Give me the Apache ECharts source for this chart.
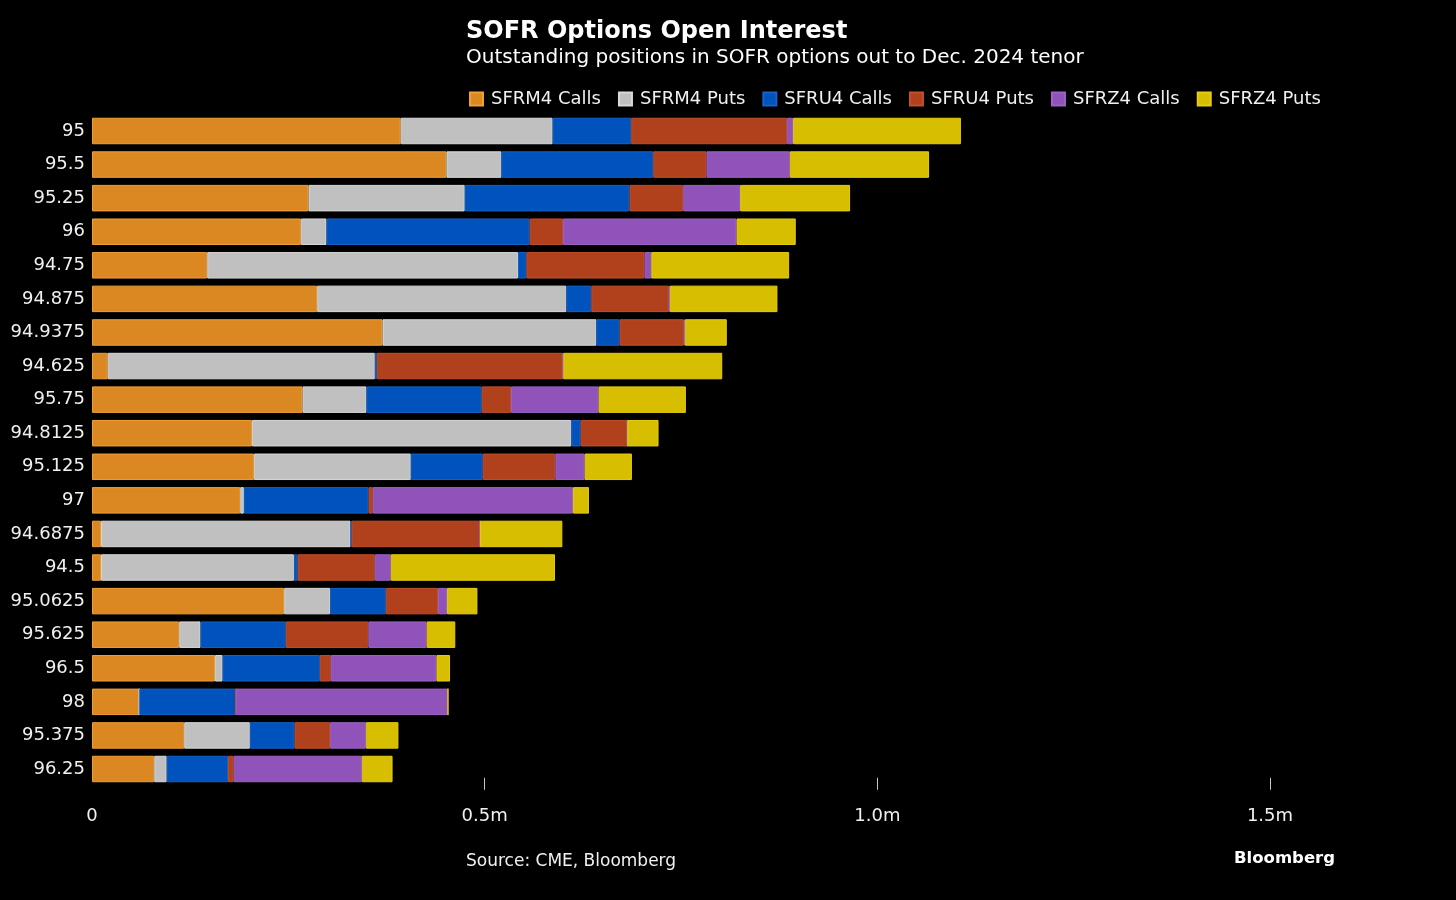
<!DOCTYPE html>
<html>
<head>
<meta charset="utf-8">
<script src="https://cdn.jsdelivr.net/npm/echarts@6/dist/echarts.min.js"></script>
<style>
html,body{margin:0;padding:0;background:#000;}
#chart{width:1456px;height:900px;}
</style>
</head>
<body>
<div id="chart"></div>
<script>
// Strike categories (top to bottom)
const categories = ['95','95.5','95.25','96','94.75','94.875','94.9375','94.625','95.75','94.8125','95.125','97','94.6875','94.5','95.0625','95.625','96.5','98','95.375','96.25'];
// Open interest, thousands of contracts
const sfrm4Calls = [393.1,451.3,275.7,265.9,146.7,286.7,369.9,20.0,268.1,203.6,206.1,188.7,11.5,11.5,244.7,111.0,156.5,60.2,117.4,79.3];
const sfrm4Puts  = [193.4,70.0,198.9,32.7,395.7,317.3,272.3,340.1,81.4,406.8,199.8,4.7,317.7,245.6,58.5,27.2,9.8,0,83.6,15.8];
const sfru4Calls = [100.1,193.4,209.9,258.7,10.7,31.8,29.6,2.5,146.7,11.8,91.6,158.7,1.3,4.7,70.9,108.5,123.8,123.0,56.9,78.0];
const sfru4Puts  = [198.5,67.8,68.3,42.4,150.5,98.7,81.8,237.0,37.3,59.4,92.5,5.5,163.6,98.3,66.5,105.2,14.0,0,45.3,7.3];
const sfrz4Calls = [7.6,106.0,72.5,221.0,8.5,1.3,1.3,0.6,111.6,0,37.3,254.8,0,20.4,11.5,74.2,134.5,270.1,45.4,163.2];
const sfrz4Puts  = [213.7,177.4,140.0,75.4,175.6,137.0,53.4,202.3,111.1,39.8,60.2,20.4,104.8,209.0,38.7,36.5,17.3,0,41.6,39.1];
const seriesNames = ['SFRM4 Calls','SFRM4 Puts','SFRU4 Calls','SFRU4 Puts','SFRZ4 Calls','SFRZ4 Puts'];
const xTickValues = [0, 500, 1000, 1500];

const colors  = ['#DB8823','#C0C0C0','#0052BC','#B1401D','#8F53B9','#D8BE00'];
const borders = ['#F0A035','#D8D8D8','#1563CC','#C0502A','#9E62C8','#E6CC10'];
const seriesData = [sfrm4Calls,sfrm4Puts,sfru4Calls,sfru4Puts,sfrz4Calls,sfrz4Puts];

const FONT = 'DejaVu Sans';
const chart = echarts.init(document.getElementById('chart'));
chart.setOption({
  backgroundColor:'#000',
  animation:false,
  title:[
    {text:'SOFR Options Open Interest', left:466, top:20, padding:0,
     textStyle:{color:'#fff', fontFamily:FONT, fontWeight:'bold', fontSize:24}},
    {text:'Outstanding positions in SOFR options out to Dec. 2024 tenor', left:466, top:48, padding:0,
     textStyle:{color:'#fff', fontFamily:FONT, fontWeight:'normal', fontSize:20}},
    {text:'Source: CME, Bloomberg', left:466, top:853, padding:0,
     textStyle:{color:'#f0f0f0', fontFamily:FONT, fontWeight:'normal', fontSize:17}},
    {text:'Bloomberg', left:1234, top:850, padding:0,
     textStyle:{color:'#fff', fontFamily:FONT, fontWeight:'bold', fontSize:16.5}}
  ],
  legend:{
    left:469, top:90, padding:0,
    itemWidth:13, itemHeight:13, itemGap:17, icon:'rect',
    data:seriesNames,
    textStyle:{color:'#f0f0f0', fontFamily:FONT, fontSize:18, padding:[0,0,0,3]}
  },
  grid:{left:92, right:186, top:114.2, bottom:114.2, containLabel:false},
  xAxis:{
    type:'value', min:0, max:1500, interval:500,
    offset:4,
    axisLine:{show:false},
    axisTick:{show:true, inside:true, length:12, lineStyle:{color:'#c8c8c8', width:1}, customValues:xTickValues.slice(1)},
    splitLine:{show:false},
    axisLabel:{color:'#f0f0f0', fontFamily:FONT, fontSize:18, margin:18,
      formatter:function(v){ return v===0 ? '0' : (v/1000).toFixed(1)+'m'; }}
  },
  yAxis:{
    type:'category', data:categories, inverse:true,
    axisLine:{show:false}, axisTick:{show:false},
    axisLabel:{color:'#f0f0f0', fontFamily:FONT, fontSize:18, margin:7}
  },
  series: seriesNames.map(function(n,i){
    return {
      name:n, type:'bar', stack:'oi', barWidth:26.5,
      data:seriesData[i],
      itemStyle:{color:colors[i], borderColor:borders[i], borderWidth:1},
      emphasis:{disabled:true}
    };
  })
});
</script>
</body>
</html>
